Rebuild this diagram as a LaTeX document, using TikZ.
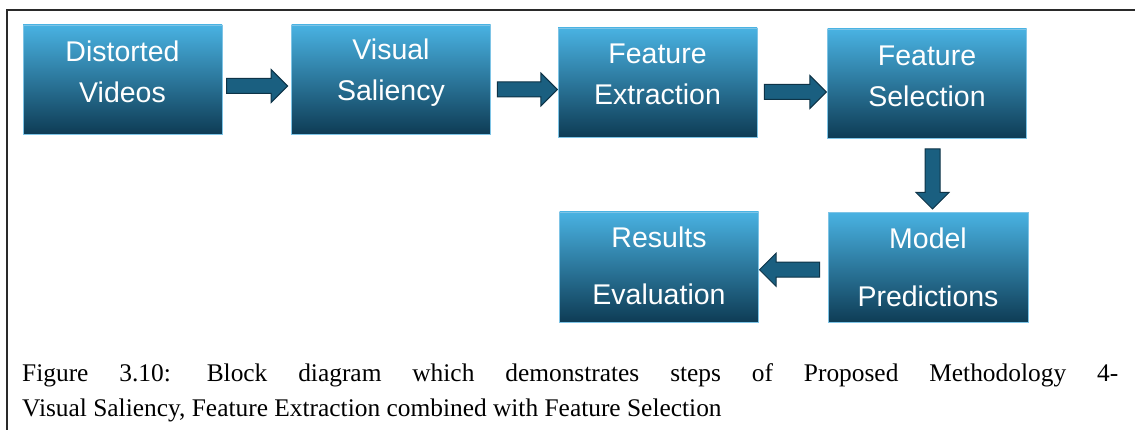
\documentclass[tikz,border=0pt]{standalone}
\usepackage{fontspec}
\setmainfont{Liberation Serif}
\newfontfamily\boxfont{Liberation Sans}
\usetikzlibrary{shapes.arrows,calc}
\definecolor{boxtop}{HTML}{49B2E2}
\definecolor{boxbot}{HTML}{0E3C55}
\definecolor{boxedge}{HTML}{7EC4E6}
\definecolor{arrfill}{HTML}{1A5F80}
\definecolor{arredge}{HTML}{0D3347}
\definecolor{frame}{HTML}{2A2A2A}
\tikzset{
  stepbox/.style={rectangle, minimum width=199pt, minimum height=109pt, inner sep=0pt,
    top color=boxtop, bottom color=boxbot, draw=boxedge, line width=0.8pt},
  boxlabel/.style={text=white, align=center, inner sep=0pt, font=\boxfont\fontsize{28.5}{41}\selectfont},
  boxlabelwide/.style={boxlabel, font=\boxfont\fontsize{28.5}{57.5}\selectfont},
  barrow/.style={single arrow, draw=arredge, fill=arrfill, line width=1pt, inner xsep=0pt, inner ysep=7pt,
    minimum width=33pt, single arrow head extend=9pt, minimum height=61pt},
  caption/.style={anchor=base west, inner sep=0pt, font=\fontsize{25.4}{35}\selectfont}
}
\begin{document}
\begin{tikzpicture}[x=1pt,y=-1pt]
\useasboundingbox (0,0) rectangle (1135,430);
% frame
\coordinate (ftl) at (7,10);
\coordinate (ftr) at (1135,10);
\coordinate (fbl) at (7,430);
\draw[frame, line width=1.5pt] (fbl) -- (ftl) -- (ftr);
% boxes
\node[stepbox] (b1) at (122.5,79.5) {};
\node[stepbox] (b2) at (391,79.5) {};
\node[stepbox] (b3) at (657.5,82.5) {};
\node[stepbox] (b4) at (927,83.5) {};
\node[stepbox, minimum width=200pt, minimum height=110pt] (b5) at (928,267.5) {};
\node[stepbox, minimum height=110pt] (b6) at (659,267) {};
% labels
\node[boxlabel] (t1) at ($(b1.center)+(0,-8)$) {Distorted\\Videos};
\node[boxlabel] (t2) at ($(b2.center)+(0,-7)$) {Visual\\Saliency};
\node[boxlabel] (t3) at ($(b3.center)+(0,-8)$) {Feature\\Extraction};
\node[boxlabel] (t4) at ($(b4.center)+(0,-7.5)$) {Feature\\Selection};
\node[boxlabelwide] (t5) at ($(b5.center)+(0,0)$) {Model\\Predictions};
\node[boxlabelwide] (t6) at ($(b6.center)+(0,-1)$) {Results\\Evaluation};
% block arrows
\node[barrow] (a1) at ($(b1.east)!0.45!(b2.west)+(0,6.5)$) {};
\node[barrow, minimum height=60pt] (a2) at ($(b2.east)!0.49!(b3.west)+(0,8.5)$) {};
\node[barrow, minimum height=62pt] (a3) at ($(b3.east)!0.49!(b4.west)+(0,9)$) {};
\node[barrow, minimum height=60pt, rotate=270] (a4) at ($(b4.south)!0.5!(b5.north)+(5,0)$) {};
\node[barrow, minimum height=60pt, rotate=180] (a5) at ($(b6.east)!0.5!(b5.west)+(0,2.5)$) {};
% caption
\node[caption] (c1) at (22,381) {\frenchspacing\makebox[1096pt][s]{Figure 3.10:\hspace{5pt} Block diagram which demonstrates steps of Proposed Methodology 4-}};
\node[caption] (c2) at (22,416) {Visual Saliency, Feature Extraction combined with Feature Selection};
\end{tikzpicture}
\end{document}
